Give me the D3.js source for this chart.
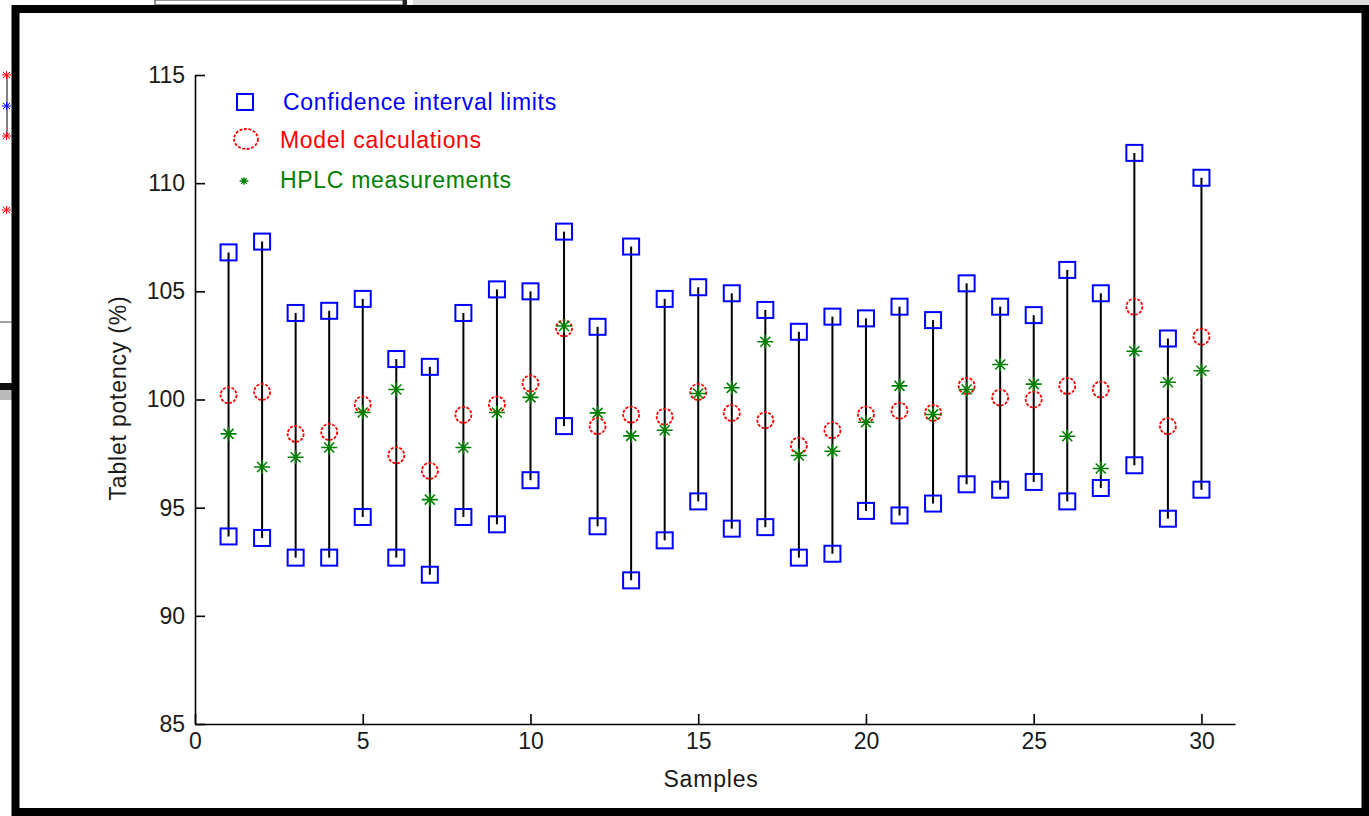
<!DOCTYPE html>
<html>
<head>
<meta charset="utf-8">
<script src="https://cdn.jsdelivr.net/npm/d3@7"></script>
<style>
    body { margin: 0; background: #fff; }
    text { font-family: "Liberation Sans", Arial, sans-serif; }
</style>
</head>
<body>
<div class="chart"></div>
<script>
// Data
const samples = d3.range(1, 31);
const ciUpper = [106.8, 107.3, 104.0, 104.1, 104.65, 101.87, 101.51, 104.0, 105.09, 105.0,
                 107.76, 103.36, 107.07, 104.65, 105.19, 104.91, 104.14, 103.13, 103.83, 103.75,
                 104.29, 103.67, 105.37, 104.29, 103.9, 105.99, 104.91, 111.4, 102.82, 110.25];
const ciLower = [93.67, 93.6, 92.69, 92.69, 94.57, 92.69, 91.9, 94.57, 94.23, 96.27,
                 98.77, 94.14, 91.64, 93.49, 95.29, 94.03, 94.1, 92.69, 92.87, 94.85,
                 94.64, 95.19, 96.08, 95.83, 96.19, 95.29, 95.91, 96.96, 94.49, 95.83];
const modelCalc = [100.2, 100.35, 98.41, 98.5, 99.77, 97.42, 96.7, 99.29, 99.77, 100.74,
                   103.29, 98.77, 99.3, 99.2, 100.35, 99.38, 99.04, 97.87, 98.58, 99.31,
                   99.48, 99.38, 100.63, 100.09, 100.0, 100.63, 100.46, 104.29, 98.77, 102.9];
const hplc = [98.41, 96.88, 97.33, 97.78, 99.4, 100.46, 95.37, 97.78, 99.4, 100.1,
              103.4, 99.38, 98.32, 98.58, 100.28, 100.54, 102.67, 97.41, 97.61, 98.95,
              100.63, 99.31, 100.46, 101.62, 100.71, 98.3, 96.81, 102.23, 100.8, 101.33];
const xTicks = [0, 5, 10, 15, 20, 25, 30];
const yTicks = [85, 90, 95, 100, 105, 110, 115];
const legendItems = ['Confidence interval limits', 'Model calculations', 'HPLC measurements'];

const blue = '#0000ff';
const red = '#ff0000';
const green = '#008000';

const svgWidth = 1369;
const svgHeight = 816;

const svg = d3.select('.chart')
    .append('svg')
    .attr('width', svgWidth)
    .attr('height', svgHeight);

// Window frame and bits of other windows behind it
svg.append('rect').attr('x', 0).attr('y', 0).attr('width', svgWidth).attr('height', svgHeight).style('fill', '#fff');
svg.append('rect').attr('x', 155).attr('y', 0).attr('width', 248).attr('height', 5)
    .style('fill', '#fff').style('stroke', '#333').style('stroke-width', 1);
svg.append('rect').attr('x', 403).attr('y', 0).attr('width', 4).attr('height', 5).style('fill', '#222');
svg.append('rect').attr('x', 413).attr('y', 0).attr('width', 956).attr('height', 5).style('fill', '#ddd');
svg.append('line').attr('x1', 7).attr('x2', 7).attr('y1', 75).attr('y2', 136).style('stroke', '#000');
svg.append('line').attr('x1', 0).attr('x2', 12).attr('y1', 322).attr('y2', 322).style('stroke', '#444');
svg.append('rect').attr('x', 0).attr('y', 383).attr('width', 12).attr('height', 7).style('fill', '#111');
svg.append('rect').attr('x', 0).attr('y', 390).attr('width', 12).attr('height', 10).style('fill', '#bbb');
[[75, red], [106, blue], [136, red], [210, red]].forEach(([y, c]) => {
    svg.append('path').attr('d', `M2,${y}H11M6.5,${y - 4}V${y + 4}M3,${y - 3}L10,${y + 3}M3,${y + 3}L10,${y - 3}`)
        .style('stroke', c).style('stroke-width', 1);
});
svg.append('rect').attr('x', 15.5).attr('y', 9).attr('width', 1350).attr('height', 803)
    .style('fill', 'none').style('stroke', '#000').style('stroke-width', 8);

// Scales
const xScale = d3.scaleLinear().domain([0, 31]).range([195, 1235]);
const yScale = d3.scaleLinear().domain([85, 115]).range([724, 75]);

// Axes
const xAxis = d3.axisBottom(xScale)
    .tickValues(xTicks)
    .tickSizeInner(-10)
    .tickSizeOuter(0)
    .tickPadding(9);

const yAxis = d3.axisLeft(yScale)
    .tickValues(yTicks)
    .tickSizeInner(-10)
    .tickSizeOuter(0)
    .tickPadding(10);

const xAxisDraw = svg.append('g')
    .attr('class', 'x axis')
    .attr('transform', 'translate(0,' + yScale(85) + ')');
xAxis(xAxisDraw);

const yAxisDraw = svg.append('g')
    .attr('class', 'y axis')
    .attr('transform', 'translate(' + xScale(0) + ',0)');
yAxis(yAxisDraw);

svg.selectAll('.axis path, .axis line').style('stroke', '#000').style('stroke-width', 1.6);
svg.selectAll('.axis text').style('font-size', '23px').style('fill', '#1a1a1a')
    .style('font-family', '"Liberation Sans", Arial, sans-serif');

// Axis labels
svg.append('text')
    .attr('x', 711).attr('y', 787)
    .attr('text-anchor', 'middle')
    .style('font-size', '23px').style('letter-spacing', '0.8px').style('fill', '#1a1a1a')
    .text('Samples');

svg.append('text')
    .attr('transform', 'translate(126,398) rotate(-90)')
    .attr('text-anchor', 'middle')
    .style('font-size', '23px').style('letter-spacing', '0.8px').style('fill', '#1a1a1a')
    .text('Tablet potency (%)');

// Interval lines
svg.selectAll('.interval')
    .data(samples)
    .enter()
    .append('line')
    .attr('class', 'interval')
    .attr('x1', d => xScale(d))
    .attr('x2', d => xScale(d))
    .attr('y1', (d, i) => yScale(ciLower[i]))
    .attr('y2', (d, i) => yScale(ciUpper[i]))
    .style('stroke', '#000')
    .style('stroke-width', 2);

// Markers
const sq = 16;
function drawSquares(values, cls) {
    svg.selectAll('.' + cls)
        .data(values)
        .enter()
        .append('rect')
        .attr('class', cls)
        .attr('x', (d, i) => xScale(samples[i]) - sq / 2)
        .attr('y', d => yScale(d) - sq / 2)
        .attr('width', sq)
        .attr('height', sq)
        .style('fill', 'none')
        .style('stroke', blue)
        .style('stroke-width', 2);
}
drawSquares(ciUpper, 'upper');
drawSquares(ciLower, 'lower');

svg.selectAll('.model')
    .data(modelCalc)
    .enter()
    .append('circle')
    .attr('class', 'model')
    .attr('cx', (d, i) => xScale(samples[i]))
    .attr('cy', d => yScale(d))
    .attr('r', 8)
    .style('fill', 'none')
    .style('stroke', red)
    .style('stroke-width', 1.8)
    .style('stroke-dasharray', '3,1.5');

const asterisk = 'M-8,0H8M0,-7V7M-5,-5L5,5M-5,5L5,-5';
svg.selectAll('.hplc')
    .data(hplc)
    .enter()
    .append('path')
    .attr('class', 'hplc')
    .attr('transform', (d, i) => 'translate(' + xScale(samples[i]) + ',' + yScale(d) + ')')
    .attr('d', asterisk)
    .style('fill', 'none')
    .style('stroke', green)
    .style('stroke-width', 1.6);

// Legend
const legend = svg.append('g').attr('class', 'legend');
legend.append('rect').attr('x', 237).attr('y', 94).attr('width', sq).attr('height', sq)
    .style('fill', 'none').style('stroke', blue).style('stroke-width', 2);
legend.append('ellipse').attr('cx', 246).attr('cy', 139).attr('rx', 12).attr('ry', 10)
    .style('fill', 'none').style('stroke', red).style('stroke-width', 1.8).style('stroke-dasharray', '3,1.5');
legend.append('path').attr('transform', 'translate(244,181) scale(0.55)').attr('d', asterisk)
    .style('fill', 'none').style('stroke', green).style('stroke-width', 2.5);

const legendPos = [[283, 110, blue], [280, 148, red], [280, 188, green]];
legend.selectAll('.legend-text')
    .data(legendItems)
    .enter()
    .append('text')
    .attr('class', 'legend-text')
    .attr('x', (d, i) => legendPos[i][0])
    .attr('y', (d, i) => legendPos[i][1])
    .style('font-size', '23px')
    .style('letter-spacing', '0.7px')
    .style('fill', (d, i) => legendPos[i][2])
    .text(d => d);
</script>
</body>
</html>
